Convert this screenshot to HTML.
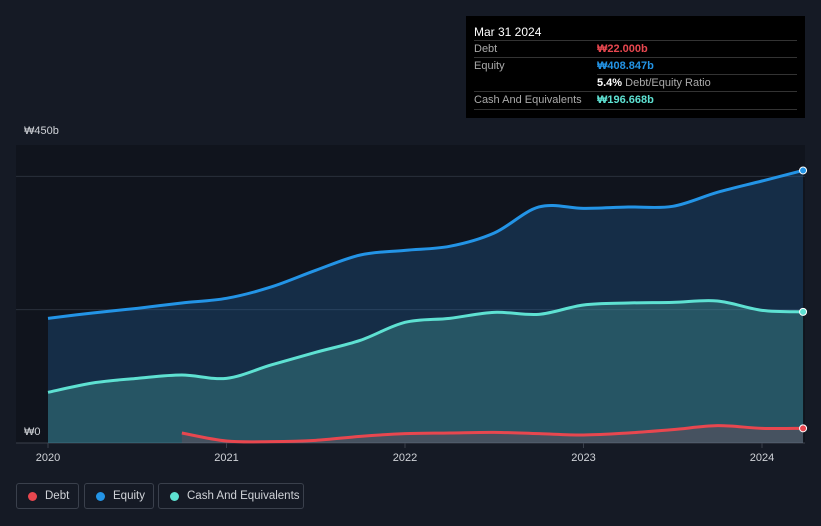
<!DOCTYPE html>
<html><head><meta charset="utf-8"><style>
body{margin:0;background:#151a25;font-family:"Liberation Sans","Noto Sans CJK KR",sans-serif;}
#c{position:relative;width:821px;height:526px;overflow:hidden}
.leg{position:absolute;top:483px;height:26px;border:1px solid #3a404c;border-radius:3px;color:#d0d3d8;font-size:11.5px;line-height:24px;box-sizing:border-box;padding-left:28px;white-space:nowrap}
.leg i{position:absolute;left:11px;top:8px;width:9px;height:9px;border-radius:50%}
.sep{position:absolute;left:8px;width:323px;border-top:1px solid #333}
</style></head><body>
<div id="c">
<svg id="s" width="821" height="526" style="position:absolute;left:0;top:0"></svg>
<div style="position:absolute;left:466px;top:16px;width:339px;height:102px;background:#000;color:#fff;font-size:11px">
<div style="position:absolute;left:8px;top:9px;font-size:12px">Mar 31 2024</div>
<div class="sep" style="top:24px"></div>
<div style="position:absolute;left:8px;top:27px;color:#aaa">Debt</div><div style="position:absolute;left:131px;top:27px;color:#e8474f;font-weight:bold">₩22.000b</div>
<div class="sep" style="top:41px"></div>
<div style="position:absolute;left:8px;top:44px;color:#aaa">Equity</div><div style="position:absolute;left:131px;top:44px;color:#2394e6;font-weight:bold">₩408.847b</div>
<div class="sep" style="top:58px;left:131px;width:200px"></div>
<div style="position:absolute;left:131px;top:61px;color:#aaa"><b style="color:#fff">5.4%</b> Debt/Equity Ratio</div>
<div class="sep" style="top:75px"></div>
<div style="position:absolute;left:8px;top:78px;color:#aaa">Cash And Equivalents</div><div style="position:absolute;left:131px;top:78px;color:#5ee1d2;font-weight:bold">₩196.668b</div>
<div class="sep" style="top:93px"></div>
</div>
<div class="leg" style="left:16px;width:63px"><i style="background:#e8474f"></i>Debt</div>
<div class="leg" style="left:84px;width:70px"><i style="background:#2394e6"></i>Equity</div>
<div class="leg" style="left:158px;width:146px"><i style="background:#5ee1d2"></i>Cash And Equivalents</div>
</div>
<script>
const years=[2020,2020.25,2020.5,2020.75,2021,2021.25,2021.5,2021.75,2022,2022.25,2022.5,2022.75,2023,2023.25,2023.5,2023.75,2024,2024.23];
const equity=[187,195,202,210,217,234,259,282,289,295,315,354,352,354,355,376,393,408.8];
const cash=[76,90,97,102,97,117,136,154,181,187,196,193,207,210,211,213,199,196.7];
const debtYears=[2020.75,2021,2021.25,2021.5,2021.75,2022,2022.25,2022.5,2022.75,2023,2023.25,2023.5,2023.75,2024,2024.23];
const debt=[15,3,2,4,10,14,15,16,14,12,15,20,26,22,22];
const yTicks=[0,450];const yTickLabels=["₩0","₩450b"];const grid=[200,400];
const xTicks=[2020,2021,2022,2023,2024];
const X=v=>48+(v-2020)*178.5, Y=v=>443-v*0.6667;
const s=document.getElementById('s'),NS='http://www.w3.org/2000/svg';
function mk(t,a,p){const e=document.createElementNS(NS,t);for(const k in a)e.setAttribute(k,a[k]);(p||s).appendChild(e);return e;}
const bg=mk('rect',{x:16,y:145,width:789,height:298,fill:'#10141d'});


grid.forEach(g=>{const l=mk('line',{x1:16,x2:805,y1:Y(g),y2:Y(g),stroke:'#2a303b'});

});
const base=mk('line',{x1:16,x2:805,y1:443,y2:443,stroke:'#3a404c'});


function path(xs,ys){const p=xs.map((x,i)=>[X(x),Y(ys[i])]);let d=`M${p[0][0]},${p[0][1]}`;
for(let i=0;i<p.length-1;i++){const a=p[i-1]||p[i],b=p[i],c=p[i+1],e=p[i+2]||c;
d+=`C${b[0]+(c[0]-a[0])/6},${b[1]+(c[1]-a[1])/6} ${c[0]-(e[0]-b[0])/6},${c[1]-(e[1]-b[1])/6} ${c[0]},${c[1]}`;}return d;}
function series(xs,ys,col,fill,name){
const d=path(xs,ys);
const a=mk('path',{d:d+`L${X(xs[xs.length-1])},443L${X(xs[0])},443Z`,fill:fill});


const l=mk('path',{d:d,fill:'none',stroke:col,'stroke-width':3});


const c=mk('circle',{cx:X(xs[xs.length-1]),cy:Y(ys[ys.length-1]),r:3.5,fill:col,stroke:'#fff','stroke-width':1});

}
series(years,equity,'#2394e6','rgba(35,120,200,0.25)','equity');
series(years,cash,'#5ee1d2','rgba(80,180,170,0.3)','cash');
series(debtYears,debt,'#e8474f','rgba(200,70,80,0.2)','debt');
yTicks.forEach((v,i)=>{const t=mk('text',{x:24,y:v==0?435:134,fill:'#d0d3d8','font-size':11});
t.textContent=yTickLabels[i];

});
xTicks.forEach(v=>{const t=mk('text',{x:X(v),y:461,fill:'#d0d3d8','font-size':11,'text-anchor':'middle'});t.textContent=v;


const k=mk('line',{x1:X(v),x2:X(v),y1:443,y2:448,stroke:'#3a404c'});

});
</script>
</body></html>
